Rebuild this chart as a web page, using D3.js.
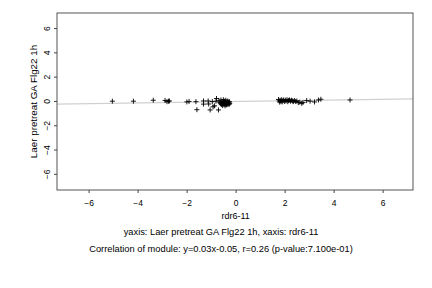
<!DOCTYPE html>
<html>
<head>
<meta charset="utf-8">
<script src="https://cdn.jsdelivr.net/npm/d3@7"></script>
<style>
  body { margin: 0; background: #fff; }
  text { font-family: "Liberation Sans", Arial, sans-serif; fill: #000; }
</style>
</head>
<body>
<svg></svg>
<script>
let width = 432;
let height = 288;

// data
let xValues = [-5.03, -4.17, -3.36, -2.88, -2.8, -2.74, -2.7,
  -1.99, -1.9, -1.62, -1.58, -1.31, -1.31, -1.12, -1.1, -1.04, -0.92, -0.86, -0.78, -0.7, -0.95, -0.8,
  -0.68, -0.64, -0.62, -0.6, -0.58, -0.56, -0.55, -0.53, -0.52, -0.5, -0.49, -0.47, -0.46, -0.45,
  -0.43, -0.42, -0.41, -0.4, -0.38, -0.37, -0.36, -0.34, -0.33, -0.32, -0.3, -0.29, -0.27, -0.26, -0.25, -0.24,
  1.75, 1.78, 1.8, 1.82, 1.85, 1.88, 1.9, 1.93, 1.96, 2.0, 2.03, 2.06, 2.1, 2.13, 2.16, 2.2, 2.24,
  2.28, 2.32, 2.36, 2.4, 2.45, 2.5, 2.56, 2.62, 2.7, 2.75, 2.9, 3.04, 3.22, 3.38, 3.48, 4.67];
let yValues = [-0.02, -0.02, 0.06, 0.04, -0.06, -0.02, 0.0,
  -0.08, -0.04, -0.06, -0.72, 0.0, -0.26, 0.0, -0.25, -0.74, -0.48, -0.4, 0.2, -0.74, -0.05, -0.02,
  0.02, -0.12, -0.22, 0.08, -0.3, -0.16, -0.04, -0.38, -0.24, 0.1, -0.1, -0.3, -0.18, -0.02,
  -0.4, -0.26, -0.12, 0.06, -0.2, -0.32, -0.06, -0.14, -0.26, 0.0, -0.2, -0.1, -0.3, -0.16, -0.06, -0.22,
  0.12, 0.0, -0.1, 0.06, -0.04, 0.1, -0.08, 0.02, 0.08, -0.04, 0.06, 0.0, 0.1, -0.06, 0.04, 0.08, -0.02,
  0.06, 0.0, -0.06, 0.04, -0.04, 0.0, -0.14, -0.1, -0.2, -0.12, 0.03, -0.02, -0.08, 0.08, 0.14, 0.08];
let xTicks = [-6, -4, -2, 0, 2, 4, 6];
let yTicks = [-6, -4, -2, 0, 2, 4, 6];
let slope = 0.03;
let intercept = -0.05;
let xLabel = "rdr6-11";
let yLabel = "Laer pretreat GA Flg22 1h";
let subtitle1 = "yaxis: Laer pretreat GA Flg22 1h, xaxis: rdr6-11";
let subtitle2 = "Correlation of module: y=0.03x-0.05, r=0.26 (p-value:7.100e-01)";

let plotLeft = 57, plotRight = 413, plotTop = 13, plotBottom = 190;

let svg = d3.select('svg').attr('width', width).attr('height', height);

let xScale = d3.scaleLinear().domain([-7.29, 7.24]).range([plotLeft, plotRight]);
let yScale = d3.scaleLinear().domain([-7.33, 7.24]).range([plotBottom, plotTop]);

// fit line
let xd = xScale.domain();
svg.append('line')
  .attr('x1', xScale(xd[0])).attr('y1', yScale(slope * xd[0] + intercept))
  .attr('x2', xScale(xd[1])).attr('y2', yScale(slope * xd[1] + intercept))
  .attr('stroke', '#d0d0d0').attr('stroke-width', 1.2);

// points as crosses
let pts = d3.zip(xValues, yValues);
svg.append('g').selectAll('path').data(pts).enter().append('path')
  .attr('d', d => {
    let px = xScale(d[0]), py = yScale(d[1]);
    return 'M' + (px - 2.5) + ',' + py + 'H' + (px + 2.5) + 'M' + px + ',' + (py - 2.5) + 'V' + (py + 2.5);
  })
  .attr('stroke', '#000').attr('stroke-width', 0.9).attr('fill', 'none');

// frame
svg.append('rect')
  .attr('x', plotLeft).attr('y', plotTop).attr('width', plotRight - plotLeft).attr('height', plotBottom - plotTop)
  .attr('fill', 'none').attr('stroke', '#555').attr('stroke-width', 1);

// x axis
let xAxis = d3.axisBottom(xScale).tickValues(xTicks).tickSize(3).tickPadding(7);
let gx = svg.append('g').attr('transform', 'translate(0,' + plotBottom + ')').call(xAxis);
gx.select('.domain').remove();
gx.selectAll('line').attr('stroke', '#444');
gx.selectAll('text').attr('font-size', 8.5);

// y axis, labels turned to run upwards like the reference
let yAxis = d3.axisLeft(yScale).tickValues(yTicks).tickSize(3);
let gy = svg.append('g').attr('transform', 'translate(' + plotLeft + ',0)').call(yAxis);
gy.select('.domain').remove();
gy.selectAll('line').attr('stroke', '#444');
gy.selectAll('text')
  .attr('font-size', 8.5)
  .attr('x', null).attr('dy', null)
  .attr('text-anchor', 'middle')
  .attr('transform', 'translate(-7,0) rotate(-90)');

// labels
svg.append('text').attr('x', xScale(0)).attr('y', 219)
  .attr('text-anchor', 'middle').attr('font-size', 9).text(xLabel);
svg.append('text').attr('transform', 'translate(37,' + ((plotTop + plotBottom) / 2) + ') rotate(-90)')
  .attr('text-anchor', 'middle').attr('font-size', 9.8).text(yLabel);
svg.append('text').attr('x', 221).attr('y', 235)
  .attr('text-anchor', 'middle').attr('font-size', 9.3).text(subtitle1);
svg.append('text').attr('x', 221).attr('y', 252)
  .attr('text-anchor', 'middle').attr('font-size', 9.3).text(subtitle2);
</script>
</body>
</html>
